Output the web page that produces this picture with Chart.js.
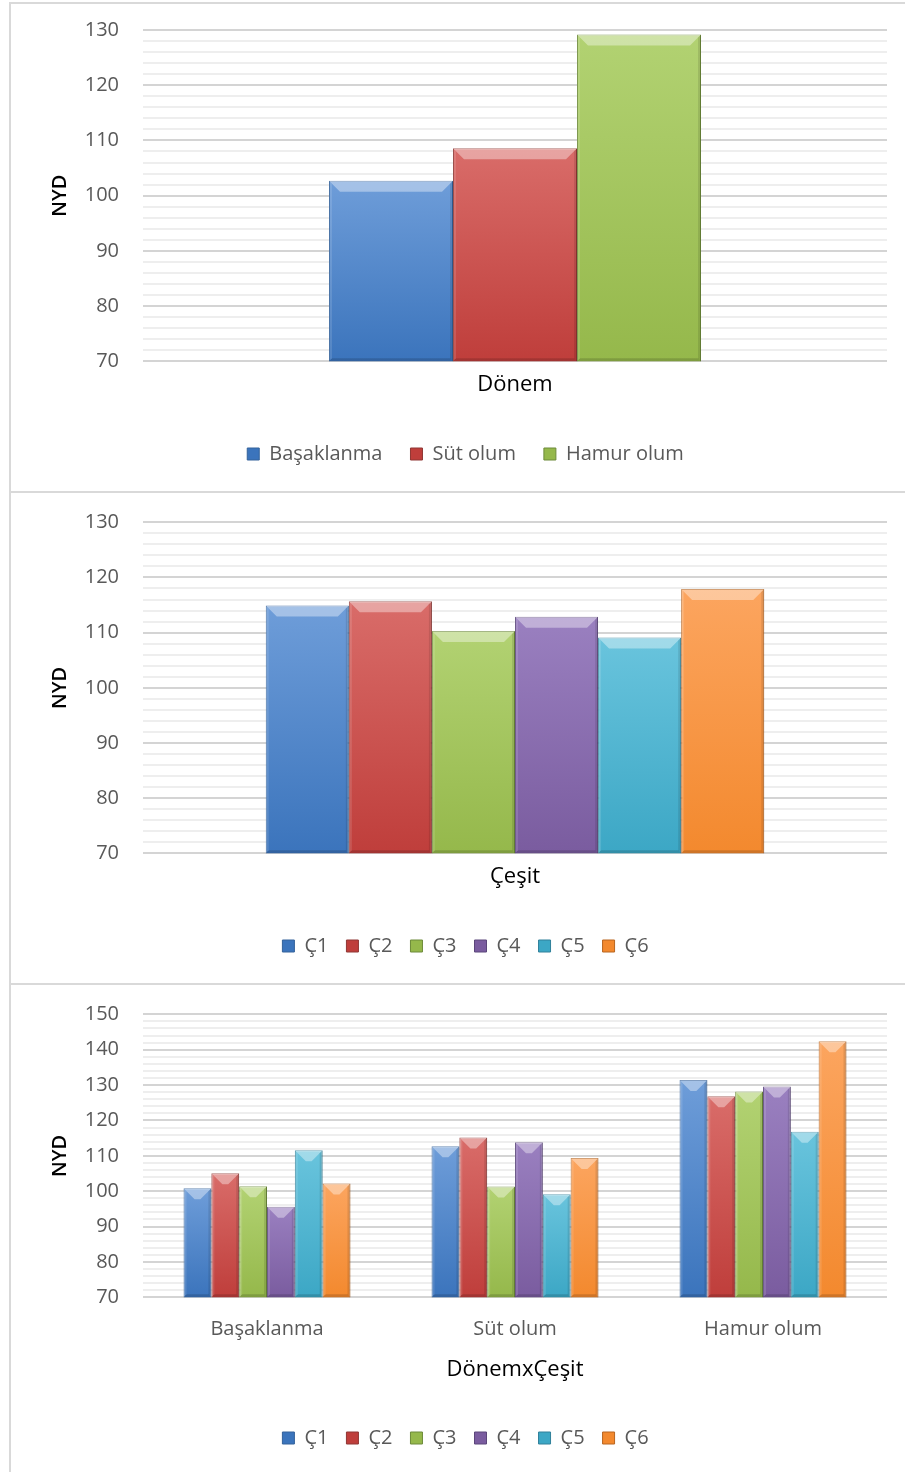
<!DOCTYPE html>
<html>
<head>
<meta charset="utf-8">
<script src="https://cdn.jsdelivr.net/npm/chart.js@4.4.0/dist/chart.umd.min.js"></script>
<style>
  body { margin: 0; background: #fff; width: 905px; height: 1472px; position: relative; overflow: hidden; }
  .line { position: absolute; background: #d9d9d9; z-index: 2; }
  canvas { position: absolute; left: 0; }
</style>
</head>
<body>
<div class="line" style="left:9px;top:2px;width:896px;height:2px"></div>
<div class="line" style="left:9px;top:491px;width:896px;height:2px"></div>
<div class="line" style="left:9px;top:983px;width:896px;height:2px"></div>
<div class="line" style="left:9px;top:2px;width:2px;height:1470px"></div>
<canvas id="c1" width="905" height="490" style="top:0"></canvas>
<canvas id="c2" width="905" height="492" style="top:490px"></canvas>
<canvas id="c3" width="905" height="490" style="top:982px"></canvas>
<script>
// veriler
const donemLabels = ["Başaklanma", "Süt olum", "Hamur olum"];
const donemValues = [102.7, 108.6, 129.2];

const cesitLabels = ["Ç1", "Ç2", "Ç3", "Ç4", "Ç5", "Ç6"];
const cesitValues = [114.9, 115.7, 110.3, 112.9, 109.1, 117.9];

// DönemxÇeşit: her dönem için Ç1..Ç6
const basakValues = [100.8, 105.1, 101.4, 95.6, 111.6, 102.2];
const sutValues = [112.7, 115.2, 101.3, 113.8, 99.1, 109.4];
const hamurValues = [131.4, 126.8, 128.2, 129.6, 116.8, 142.4];

const yTicks1 = [70, 130];
const yTicks3 = [70, 150];

// renkler (üst, alt, kenar)
const palette = [
  ["#6e9dd9", "#3b74bc", "#34629b"],
  ["#d96c69", "#bf3e3b", "#8f3734"],
  ["#b2d272", "#95b84b", "#6d8a3a"],
  ["#9a80c0", "#7a5c9f", "#5b467a"],
  ["#69c4dd", "#3ca7c5", "#30809a"],
  ["#fca55f", "#f3892e", "#b8651f"]
];

Chart.defaults.font.family = "'Open Sans', sans-serif";
Chart.defaults.animation = false;

function barFill(i) {
  return function (ctx) {
    const c = palette[i];
    if (ctx.type !== "data") return c[1];
    const chart = ctx.chart;
    const area = chart.chartArea;
    if (!area) return c[1];
    const y = chart.scales.y.getPixelForValue(ctx.raw);
    const g = chart.ctx.createLinearGradient(0, y, 0, area.bottom);
    g.addColorStop(0, c[0]);
    g.addColorStop(1, c[1]);
    return g;
  };
}

function poly(ctx, pts, color) {
  ctx.beginPath();
  ctx.moveTo(pts[0][0], pts[0][1]);
  for (let k = 1; k < pts.length; k++) ctx.lineTo(pts[k][0], pts[k][1]);
  ctx.closePath();
  ctx.fillStyle = color;
  ctx.fill();
}

// çubuklara kabartma efekti
const bevel = {
  id: "bevel",
  afterDatasetsDraw(chart) {
    const ctx = chart.ctx;
    const area = chart.chartArea;
    chart.data.datasets.forEach((ds, i) => {
      chart.getDatasetMeta(i).data.forEach(bar => {
        const p = bar.getProps(["x", "y", "base", "width"], true);
        const l = p.x - p.width / 2, r = p.x + p.width / 2;
        const t = p.y, b = Math.min(p.base, area.bottom);
        const d = Math.min(11, p.width / 2 - 1, (b - t) / 2);
        const e = 3;
        ctx.save();
        poly(ctx, [[l, t], [r, t], [r - d, t + d], [l + d, t + d]], "rgba(255,255,255,0.38)");
        poly(ctx, [[l, t], [l + e, t + e], [l + e, b - e], [l, b]], "rgba(255,255,255,0.12)");
        poly(ctx, [[r, t], [r - e, t + e], [r - e, b - e], [r, b]], "rgba(0,0,0,0.10)");
        poly(ctx, [[l, b], [r, b], [r - e, b - e], [l + e, b - e]], "rgba(0,0,0,0.15)");
        ctx.restore();
      });
    });
  }
};

function makeDatasets(names, rows, catPct) {
  return names.map((n, i) => ({
    label: n,
    data: rows[i],
    backgroundColor: barFill(i),
    borderColor: palette[i][2],
    borderWidth: 1,
    categoryPercentage: catPct,
    barPercentage: 1
  }));
}

function makeOptions(o) {
  return {
    responsive: false,
    layout: { padding: { left: 44, right: 18, top: o.top, bottom: o.bottom } },
    scales: {
      x: {
        grid: { display: false },
        border: { display: false },
        ticks: { display: o.showTicks, color: "#595959", font: { size: 20 }, padding: o.tickPad || 0 },
        title: { display: true, text: o.xTitle, color: "#000", font: { size: 22 }, padding: { top: 4, bottom: o.titlePad } },
        afterFit(scale) { scale.height = o.xHeight; }
      },
      y: {
        min: o.min,
        max: o.max,
        border: { display: false },
        grid: {
          drawTicks: false,
          lineWidth: 2,
          color: c => (c.tick && c.tick.value % 10 === 0) ? "#d4d4d4" : "#eeeeee"
        },
        ticks: {
          stepSize: 2,
          autoSkip: false,
          padding: 24,
          color: "#595959",
          font: { size: 20 },
          callback: v => v % 10 === 0 ? v : ""
        },
        title: { display: true, text: "NYD", color: "#000", font: { size: 20, weight: "600" } },
        afterFit(scale) {
          scale.width = 99;
          scale.paddingTop = 0;
          scale.paddingBottom = 0;
        }
      }
    },
    plugins: {
      tooltip: { enabled: false },
      legend: {
        position: "bottom",
        labels: {
          color: "#595959",
          font: { size: 20 },
          boxWidth: 12,
          boxHeight: 12,
          padding: o.legendPad,
          generateLabels(chart) {
            return chart.data.datasets.map((ds, i) => ({
              text: ds.label,
              fillStyle: palette[i][1],
              strokeStyle: palette[i][2],
              lineWidth: 1,
              fontColor: "#595959",
              datasetIndex: i
            }));
          }
        }
      }
    }
  };
}

// Grafik 1: Dönem
new Chart(document.getElementById("c1"), {
  type: "bar",
  data: {
    labels: [""],
    datasets: makeDatasets(donemLabels, donemValues.map(v => [v]), 0.5)
  },
  options: makeOptions({ top: 30, bottom: 16, xTitle: "Dönem", xHeight: 54.7, titlePad: 18.3, legendPad: 28, showTicks: false, min: yTicks1[0], max: yTicks1[1] }),
  plugins: [bevel]
});

// Grafik 2: Çeşit
new Chart(document.getElementById("c2"), {
  type: "bar",
  data: {
    labels: [""],
    datasets: makeDatasets(cesitLabels, cesitValues.map(v => [v]), 0.67)
  },
  options: makeOptions({ top: 32.3, bottom: 16, xTitle: "Çeşit", xHeight: 64.7, titlePad: 28.3, legendPad: 18, showTicks: false, min: yTicks1[0], max: yTicks1[1] }),
  plugins: [bevel]
});

// Grafik 3: DönemxÇeşit
const groupRows = cesitLabels.map((n, i) => [basakValues[i], sutValues[i], hamurValues[i]]);
new Chart(document.getElementById("c3"), {
  type: "bar",
  data: {
    labels: donemLabels,
    datasets: makeDatasets(cesitLabels, groupRows, 0.673)
  },
  options: makeOptions({ top: 32.3, bottom: 14, xTitle: "DönemxÇeşit", xHeight: 112.7, titlePad: 27.3, legendPad: 18, showTicks: true, tickPad: 12, min: yTicks3[0], max: yTicks3[1] }),
  plugins: [bevel]
});
</script>
</body>
</html>
